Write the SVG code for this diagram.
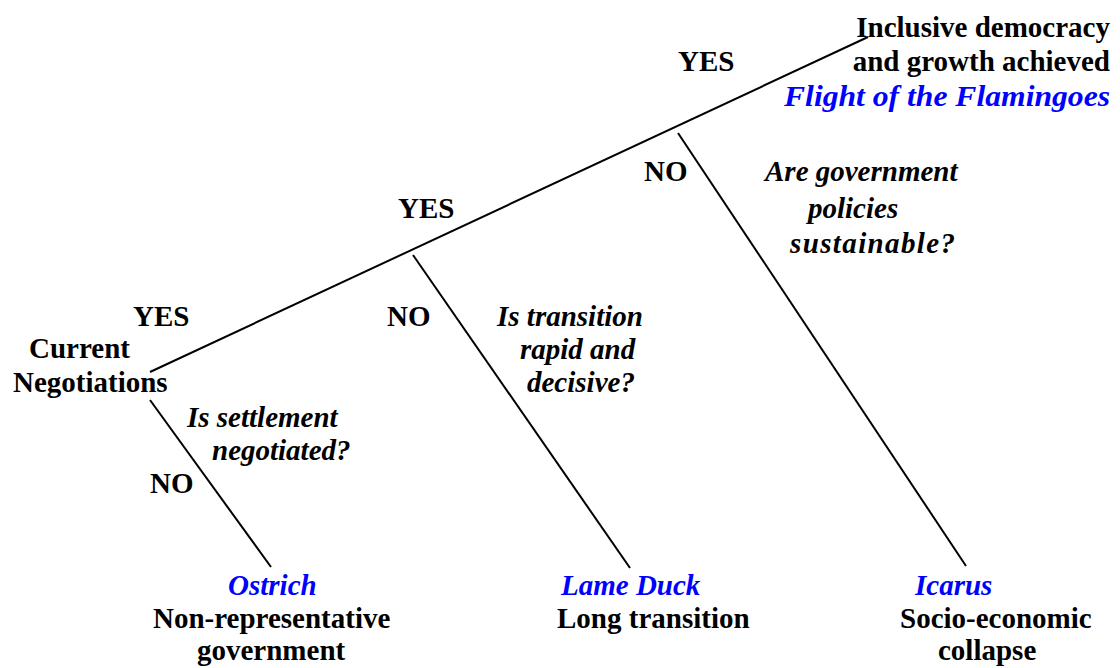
<svg xmlns="http://www.w3.org/2000/svg" width="1120" height="668" viewBox="0 0 1120 668">
  <style>
    text { font-size: 29px; font-weight: bold; fill: #000; }
    .q { font-style: italic; }
    .name { font-style: italic; fill: #0000ff; }
    .end { text-anchor: end; }
    line { stroke: #000; stroke-width: 2; fill: none; }
  </style>
  <rect width="1120" height="668" fill="#fff"/>

  <!-- tree branches -->
  <g id="connectors">
    <line x1="150" y1="372" x2="868" y2="37"/>
    <line x1="150" y1="400" x2="271" y2="567"/>
    <line x1="413" y1="255" x2="630" y2="568"/>
    <line x1="678" y1="133" x2="966" y2="566"/>
  </g>

  <g font-family="'Liberation Serif', 'Times New Roman', 'DejaVu Serif', serif">
    <!-- starting point -->
    <g id="start">
      <text x="29" y="358">Current</text>
      <text x="13" y="392">Negotiations</text>
    </g>

    <!-- decision labels -->
    <g id="decision-settlement">
      <text x="133" y="326">YES</text>
      <text class="q" x="187" y="427">Is settlement</text>
      <text class="q" x="212" y="460">negotiated?</text>
      <text x="150" y="493">NO</text>
    </g>
    <g id="decision-transition">
      <text x="398" y="218">YES</text>
      <text x="387" y="326">NO</text>
      <text class="q" x="497" y="326">Is transition</text>
      <text class="q" x="520" y="359">rapid and</text>
      <text class="q" x="527" y="392">decisive?</text>
    </g>
    <g id="decision-policies">
      <text x="678" y="71">YES</text>
      <text x="644" y="181">NO</text>
      <text class="q" x="765" y="181">Are government</text>
      <text class="q" x="808" y="218">policies</text>
      <text class="q" x="790" y="253" textLength="165" lengthAdjust="spacing">sustainable?</text>
    </g>

    <!-- outcomes -->
    <g id="outcome-flamingoes">
      <text class="end" x="1110" y="37">Inclusive democracy</text>
      <text class="end" x="1110" y="71">and growth achieved</text>
      <text class="name end" x="1110" y="106" textLength="326" lengthAdjust="spacingAndGlyphs">Flight of the Flamingoes</text>
    </g>
    <g id="outcome-ostrich">
      <text class="name" x="228" y="595">Ostrich</text>
      <text x="153" y="628">Non-representative</text>
      <text x="197" y="660">government</text>
    </g>
    <g id="outcome-lame-duck">
      <text class="name" x="561" y="595">Lame Duck</text>
      <text x="557" y="628">Long transition</text>
    </g>
    <g id="outcome-icarus">
      <text class="name" x="915" y="595">Icarus</text>
      <text x="900" y="628">Socio-economic</text>
      <text x="938" y="660">collapse</text>
    </g>
  </g>
</svg>
